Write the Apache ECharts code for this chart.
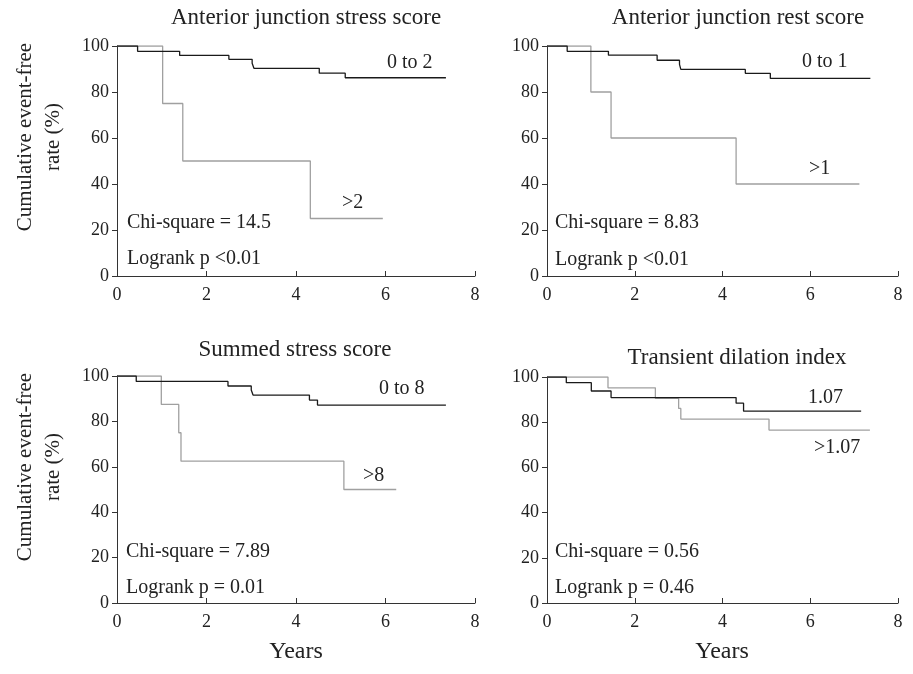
<!DOCTYPE html>
<html>
<head>
<meta charset="utf-8">
<script src="https://cdn.jsdelivr.net/npm/echarts@6/dist/echarts.min.js"></script>
<style>
  html, body { margin: 0; padding: 0; background: #fff; }
  #chart { width: 913px; height: 674px; }
</style>
</head>
<body>
<div id="chart"></div>
<script>
// survival curves (years, cumulative event-free %)
var stressLowT = [0, 0.46, 1.40, 2.50, 3.02, 3.06, 4.52, 5.10, 7.35];
var stressLowS = [100, 97.7, 95.9, 94.2, 92.5, 90.3, 88.2, 86.2, 86.2];
var stressHighT = [0, 1.02, 1.47, 4.32, 5.94];
var stressHighS = [100, 75, 50, 25, 25];

var restLowT = [0, 0.46, 1.40, 2.51, 3.02, 3.05, 4.52, 5.09, 7.37];
var restLowS = [100, 97.7, 96.0, 93.8, 92.0, 89.8, 88.1, 85.9, 85.9];
var restHighT = [0, 1.00, 1.46, 4.31, 7.12];
var restHighS = [100, 80, 60, 40, 40];

var summedLowT = [0, 0.43, 2.48, 3.00, 3.04, 4.30, 4.48, 7.35];
var summedLowS = [100, 97.6, 95.6, 93.8, 91.6, 89.4, 87.2, 87.2];
var summedHighT = [0, 0.99, 1.38, 1.43, 5.07, 6.24];
var summedHighS = [100, 87.5, 75, 62.5, 50, 50];

var tdiLowT = [0, 0.44, 1.01, 1.46, 4.31, 4.48, 7.16];
var tdiLowS = [100, 97.5, 93.8, 90.9, 88.4, 84.9, 84.9];
var tdiHighT = [0, 1.39, 2.47, 3.00, 3.05, 5.06, 7.36];
var tdiHighS = [100, 95.2, 90.6, 86.1, 81.4, 76.5, 76.5];

var panelTitles = ["Anterior junction stress score", "Anterior junction rest score",
                   "Summed stress score", "Transient dilation index"];
var lowLabels = ["0 to 2", "0 to 1", "0 to 8", "1.07"];
var highLabels = [">2", ">1", ">8", ">1.07"];
var chiText = ["Chi-square = 14.5", "Chi-square = 8.83", "Chi-square = 7.89", "Chi-square = 0.56"];
var pText = ["Logrank p <0.01", "Logrank p <0.01", "Logrank p = 0.01", "Logrank p = 0.46"];

var FONT = "'Liberation Serif', 'DejaVu Serif', serif";
var DARK = "#1a1a1a";
var GREY = "#a0a0a0";

function pairs(t, s) {
  return t.map(function (v, i) { return [v, s[i]]; });
}

var curves = [
  [pairs(stressLowT, stressLowS), pairs(stressHighT, stressHighS)],
  [pairs(restLowT, restLowS), pairs(restHighT, restHighS)],
  [pairs(summedLowT, summedLowS), pairs(summedHighT, summedHighS)],
  [pairs(tdiLowT, tdiLowS), pairs(tdiHighT, tdiHighS)]
];

// grid boxes
var grids = [
  { left: 117, top: 46, width: 358, height: 230 },
  { left: 547, top: 46, width: 351, height: 230 },
  { left: 117, top: 376, width: 358, height: 227 },
  { left: 547, top: 377, width: 351, height: 226 }
];

var xAxes = [], yAxes = [], series = [];
grids.forEach(function (g, i) {
  xAxes.push({
    type: "value", gridIndex: i, min: 0, max: 8, interval: 2,
    axisLine: { lineStyle: { color: "#333", width: 1 } },
    axisTick: { inside: true, length: 5, lineStyle: { color: "#333" } },
    axisLabel: { fontFamily: FONT, fontSize: 18, color: "#222", margin: 10 },
    splitLine: { show: false }
  });
  yAxes.push({
    type: "value", gridIndex: i, min: 0, max: 100, interval: 20,
    axisLine: { show: true, lineStyle: { color: "#333", width: 1 } },
    axisTick: { show: true, length: 5, lineStyle: { color: "#333" } },
    axisLabel: { fontFamily: FONT, fontSize: 18, color: "#222", margin: 8 },
    splitLine: { show: false }
  });
  series.push({
    type: "line", step: "end", xAxisIndex: i, yAxisIndex: i,
    data: curves[i][1], symbol: "none", silent: true,
    lineStyle: { color: GREY, width: 1.3 }
  });
  series.push({
    type: "line", step: "end", xAxisIndex: i, yAxisIndex: i,
    data: curves[i][0], symbol: "none", silent: true,
    lineStyle: { color: DARK, width: 1.3 }
  });
});

function txt(x, y, s, size, align) {
  return {
    type: "text", x: x, y: y, silent: true,
    style: { text: s, fontFamily: FONT, fontSize: size, fill: "#222",
             align: align || "left", verticalAlign: "middle" }
  };
}

var texts = [
  txt(306, 18, panelTitles[0], 23, "center"),
  txt(738, 18, panelTitles[1], 23, "center"),
  txt(295, 350, panelTitles[2], 23, "center"),
  txt(737, 358, panelTitles[3], 23, "center"),

  txt(127, 223, chiText[0], 20), txt(127, 259, pText[0], 20),
  txt(555, 223, chiText[1], 20), txt(555, 260, pText[1], 20),
  txt(126, 552, chiText[2], 20), txt(126, 588, pText[2], 20),
  txt(555, 552, chiText[3], 20), txt(555, 588, pText[3], 20),

  txt(387, 63, lowLabels[0], 20), txt(342, 203, highLabels[0], 20),
  txt(802, 62, lowLabels[1], 20), txt(809, 169, highLabels[1], 20),
  txt(379, 389, lowLabels[2], 20), txt(363, 476, highLabels[2], 20),
  txt(808, 398, lowLabels[3], 20), txt(814, 448, highLabels[3], 20),

  txt(296, 652, "Years", 24, "center"),
  txt(722, 652, "Years", 24, "center")
];

// rotated y axis names
[137, 467].forEach(function (cy) {
  texts.push({
    type: "text", x: 39, y: cy, rotation: Math.PI / 2, silent: true,
    style: { text: "Cumulative event-free\nrate (%)", fontFamily: FONT, fontSize: 21,
             fill: "#222", align: "center", verticalAlign: "middle", lineHeight: 28 }
  });
});

var chart = echarts.init(document.getElementById("chart"));
chart.setOption({
  animation: false,
  backgroundColor: "#fff",
  grid: grids,
  xAxis: xAxes,
  yAxis: yAxes,
  series: series,
  graphic: texts
});
</script>
</body>
</html>
